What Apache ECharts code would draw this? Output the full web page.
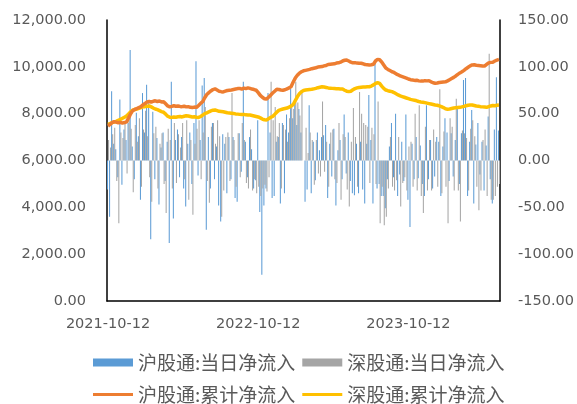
<!DOCTYPE html>
<html>
<head>
<meta charset="utf-8">
<script src="https://cdn.jsdelivr.net/npm/echarts@6/dist/echarts.min.js"></script>
<style>html,body{margin:0;padding:0;background:#fff}#c{width:577px;height:404px}</style>
</head>
<body>
<div id="c"></div>
<script>
// 沪股通:当日净流入 (right axis)
const huDaily = [
 -31,-60,74,18,12,-18,65,-26,33,22,
 40,118,15,-20,51,26,-42,72,30,81,
 61,-84,52,-20,24,-47,14,30,-22,20,
 -88,84,-62,22,33,-18,25,-30,-49,18,
 30,-25,40,106,-16,22,80,88,-74,25,
 -30,40,-20,15,-48,-65,28,18,-35,25,
 -20,25,-40,-44,
 29,-12,84,20,-18,25,12,-30,-21,43,
 -55,-122,-48,-30,72,30,-40,-38,20,25,
 -46,40,-35,49,30,77,45,63,38,55,
 30,0,-44,
 -31,59,-35,20,-21,30,11,25,27,38,
 -40,18,-17,34,-48,11,22,-20,49,-14,
 30,-22,-35,-37,18,-35,20,-31,-46,18,
 70,22,
 -46,104,-30,-25,-38,-38,-51,-20,15,40,
 -18,50,-38,-15,20,-22,49,-42,-71,18,
 -20,25,-19,16,-25,-38,59,-20,22,-30,
 -17,25,
 20,-38,15,45,30,-22,29,-17,22,57,
 -25,29,86,88,-38,20,54,-46,17,40,
 -15,20,-32,16,47,-20,-46,33,89,32
];
// 深股通:当日净流入 (right axis)
const shenDaily = [
 22,14,28,35,-22,-67,30,24,40,-14,
 43,34,-34,38,20,45,-28,33,53,26,
 -18,-44,29,36,-30,18,29,-25,-56,34,
 22,-30,40,-24,28,14,40,-20,43,-42,
 22,-58,18,34,43,-20,30,57,-22,-45,
 36,40,18,43,26,-60,-32,25,30,-22,
 72,22,-28,29,
 -18,40,22,-24,-30,33,-32,-20,-35,-28,
 -38,-30,-26,-33,-18,84,43,57,26,40,
 -30,38,33,20,45,60,55,84,62,48,
 75,0,35,
 8,30,22,-26,22,-14,-17,63,-12,20,
 -28,30,33,-20,-24,40,-42,28,25,-31,
 -49,20,56,25,-28,73,50,40,38,36,
 -24,35,
 28,-25,63,-67,-28,-69,-60,-30,25,-28,
 -32,-21,25,-49,-24,-18,-32,15,20,-28,
 50,-32,59,-38,-56,36,-32,22,-32,33,
 20,-28,
 76,-35,31,-28,-67,45,36,-32,66,-32,
 -65,32,29,24,-32,34,43,26,-28,-53,
 -32,22,33,-38,114,-42,-42,-38,-28,-25
];
// 沪股通:累计净流入 (left axis)
const huCum = [
 7472,7540,7620,7660,7640,7610,7630,7600,7620,7650,
 7820,8000,8130,8180,8220,8260,8300,8380,8440,8500,
 8520,8490,8530,8550,8520,8540,8500,8510,8420,8330,
 8290,8310,8340,8320,8330,8310,8300,8320,8290,8300,
 8270,8260,8280,8270,8350,8440,8510,8680,8820,8900,
 8970,9030,9060,9010,8960,8940,8930,8960,8990,9000,
 9010,9030,9050,9070,9080,9050,9090,9070,9100,9080,
 9050,9030,9000,8900,8780,8700,8640,8620,8700,8790,
 8880,8960,9040,9030,9010,9000,9020,9060,9100,9160,
 9350,9520,9640,9730,9790,9830,9850,9870,9890,9920,
 9940,9960,9990,10000,10010,10040,10060,10100,10110,10120,
 10130,10160,10170,10200,10250,10280,10290,10250,10200,10170,
 10180,10160,10150,10150,10130,10100,10090,10080,10090,10110,
 10250,10320,10300,10210,10080,9950,9890,9840,9790,9760,
 9700,9660,9610,9580,9550,9520,9480,9450,9440,9420,
 9430,9400,9390,9390,9410,9400,9410,9360,9320,9300,
 9310,9330,9340,9350,9360,9400,9450,9500,9550,9610,
 9680,9740,9790,9850,9920,9980,10040,10080,10090,10070,
 10060,10050,10040,10030,10100,10170,10190,10200,10250,10290,10320
];
// 深股通:累计净流入 (left axis)
const shenCum = [
 7540,7580,7620,7640,7670,7720,7760,7800,7850,7900,
 7990,8080,8150,8180,8200,8230,8260,8290,8300,8320,
 8330,8290,8240,8200,8170,8130,8090,8060,7980,7890,
 7850,7840,7860,7850,7870,7880,7860,7890,7910,7900,
 7880,7860,7870,7850,7840,7880,7940,8000,8030,8080,
 8120,8150,8160,8130,8100,8090,8080,8060,8040,8030,
 8020,8010,7990,7980,7970,7960,7970,7950,7940,7940,
 7920,7900,7880,7860,7820,7770,7740,7730,7780,7840,
 7880,7970,8060,8140,8170,8200,8220,8240,8280,8330,
 8390,8560,8720,8850,8940,8990,9010,9020,9030,9040,
 9060,9080,9110,9130,9150,9140,9120,9100,9090,9080,
 9070,9060,9060,9050,9050,9000,8960,8940,8960,9020,
 9070,9100,9120,9130,9140,9140,9150,9150,9180,9230,
 9290,9320,9290,9180,9080,9010,8980,8960,8940,8900,
 8850,8800,8760,8730,8700,8670,8640,8610,8590,8570,
 8550,8520,8500,8490,8470,8450,8430,8410,8390,8370,
 8360,8330,8300,8260,8210,8190,8200,8220,8240,8250,
 8260,8270,8290,8310,8340,8360,8370,8370,8350,8330,
 8320,8300,8290,8280,8270,8300,8330,8350,8340,8360,8370
];
const tickLabels = ['2021-10-12', '2022-10-12', '2023-10-12'];
const seriesNames = ['沪股通:当日净流入', '深股通:当日净流入', '沪股通:累计净流入', '深股通:累计净流入'];

// dates of the samples (5-day spacing from 2021-10-12)
const categories = [];
const t0 = Date.UTC(2021, 9, 12);
for (let i = 0; i < huDaily.length; i++) {
  categories.push(new Date(t0 + i * 5 * 86400000).toISOString().slice(0, 10));
}

const fmt = v => Number(v).toLocaleString('en-US', {minimumFractionDigits: 2, maximumFractionDigits: 2});
const labelColor = '#595959';
const fontAxis = 'DejaVu Sans';
const fontCJK = 'Noto Sans CJK SC';

const chart = echarts.init(document.getElementById('c'));
chart.setOption({
  animation: false,
  backgroundColor: '#ffffff',
  grid: {left: 107, right: 77, top: 20, bottom: 103},
  legend: [
    {
      top: 353, left: 93, padding: 0, itemWidth: 40, itemHeight: 8, itemGap: 7,
      textStyle: {fontSize: 19, color: labelColor, fontFamily: fontCJK},
      data: [{name: seriesNames[0], icon: 'rect'}, {name: seriesNames[1], icon: 'rect'}]
    },
    {
      top: 385, left: 93, padding: 0, itemWidth: 40, itemHeight: 3, itemGap: 7,
      textStyle: {fontSize: 19, color: labelColor, fontFamily: fontCJK},
      data: [{name: seriesNames[2], icon: 'rect'}, {name: seriesNames[3], icon: 'rect'}]
    }
  ],
  xAxis: {
    type: 'category',
    data: categories,
    boundaryGap: true,
    axisLine: {onZero: false, lineStyle: {color: '#000', width: 1.5}},
    axisTick: {show: false},
    splitLine: {show: false},
    axisLabel: {
      interval: (idx, val) => tickLabels.includes(val),
      color: labelColor, fontSize: 14.5, fontFamily: fontAxis, margin: 16, hideOverlap: false
    }
  },
  yAxis: [
    {
      type: 'value', min: 0, max: 12000, interval: 2000, position: 'left',
      axisLine: {show: true, lineStyle: {color: '#000', width: 1.5}},
      axisTick: {show: false}, splitLine: {show: false},
      axisLabel: {formatter: fmt, color: labelColor, fontSize: 14.5, fontFamily: fontAxis, margin: 21}
    },
    {
      type: 'value', min: -150, max: 150, interval: 50, position: 'right',
      axisLine: {show: true, lineStyle: {color: '#000', width: 1.5}},
      axisTick: {show: false}, splitLine: {show: false},
      axisLabel: {formatter: fmt, color: labelColor, fontSize: 14.5, fontFamily: fontAxis, margin: 18}
    }
  ],
  series: [
    {name: seriesNames[0], type: 'bar', yAxisIndex: 1, data: huDaily, barCategoryGap: '0%', barGap: '0%',
     itemStyle: {color: '#5B9BD5'}, z: 2},
    {name: seriesNames[1], type: 'bar', yAxisIndex: 1, data: shenDaily, barCategoryGap: '0%', barGap: '0%',
     itemStyle: {color: '#A5A5A5'}, z: 2},
    {name: seriesNames[2], type: 'line', yAxisIndex: 0, data: huCum, showSymbol: false, symbol: 'none',
     lineStyle: {color: '#ED7D31', width: 3.5}, itemStyle: {color: '#ED7D31'}, z: 5},
    {name: seriesNames[3], type: 'line', yAxisIndex: 0, data: shenCum, showSymbol: false, symbol: 'none',
     lineStyle: {color: '#FFC000', width: 3.5}, itemStyle: {color: '#FFC000'}, z: 4}
  ]
});
</script>
</body>
</html>
